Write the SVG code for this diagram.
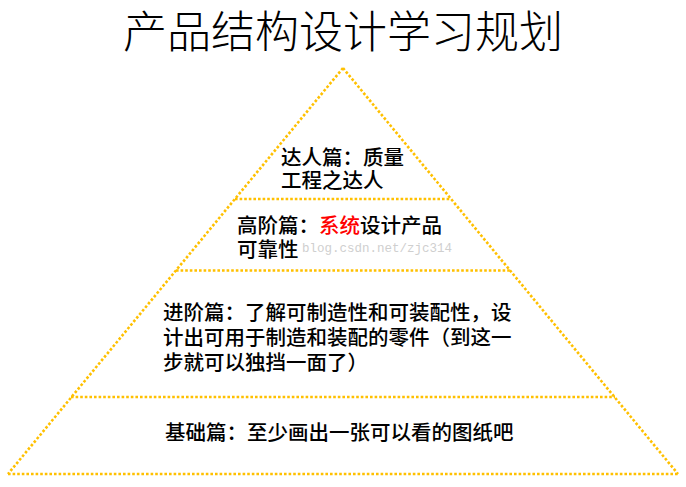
<svg xmlns="http://www.w3.org/2000/svg" width="686" height="487" viewBox="0 0 686 487">
<style>
.dot{fill:none;stroke:#FFC000;stroke-width:2.6;stroke-dasharray:2.6 2;stroke-linecap:butt}
.t{font-family:"Noto Sans CJK SC","Noto Sans",sans-serif;font-size:20.5px;fill:#000;font-weight:500}
.title{font-family:"Noto Sans CJK SC","Noto Sans",sans-serif;font-size:44px;fill:#000;font-weight:300}
.wm{font-family:"Liberation Mono",monospace;font-size:12.5px;fill:#cfcfcf}
.red{fill:#FF0000}
</style>
<rect width="686" height="487" fill="#fff"/>
<text class="title" x="343" y="48" text-anchor="middle">产品结构设计学习规划</text>
<g id="connectors">
<path class="dot" d="M343,68 L8,474"/>
<path class="dot" d="M343,68 L678,474"/>
<path class="dot" d="M8,474 L678,474"/>
<path class="dot" d="M235,199 L451,199"/>
<path class="dot" d="M176,270.5 L510,270.5"/>
<path class="dot" d="M71,397 L615,397"/>
</g>
<text class="wm" x="302" y="252">blog.csdn.net/zjc314</text>
<g id="level4">
<text class="t" x="281" y="165">达人篇：质量</text>
<text class="t" x="281" y="188">工程之达人</text>
</g>
<g id="level3">
<text class="t" x="237" y="233">高阶篇：<tspan class="red">系统</tspan>设计产品</text>
<text class="t" x="237" y="257">可靠性</text>
</g>
<g id="level2">
<text class="t" x="163" y="320">进阶篇：了解可制造性和可装配性，设</text>
<text class="t" x="163" y="345">计出可用于制造和装配的零件（到这一</text>
<text class="t" x="163" y="370">步就可以独挡一面了）</text>
</g>
<g id="level1">
<text class="t" x="165" y="440">基础篇：至少画出一张可以看的图纸吧</text>
</g>
</svg>
